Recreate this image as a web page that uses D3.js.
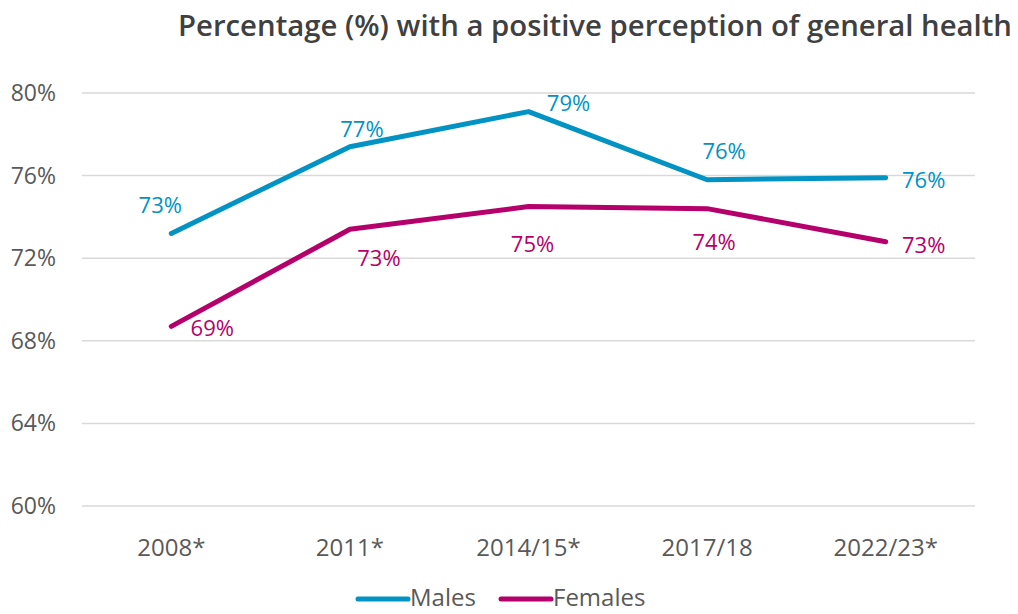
<!DOCTYPE html>
<html lang="en">
<head>
    <meta charset="UTF-8">
    <title>Positive perception of general health</title>
    <script src="https://d3js.org/d3.v7.min.js"></script>
    <style>
        body { margin: 0; background: #fff; }
        svg text { font-family: 'Open Sans', sans-serif; }
        .y-label { font-size: 23px; fill: #595959; }
        .x-label { font-size: 24px; fill: #595959; }
        .data-label { font-size: 22px; }
        .title { font-size: 28px; font-weight: 600; fill: #404040; }
        .legend-text { font-size: 24px; fill: #595959; }
    </style>
</head>
<body>
    <svg id="chart"></svg>
    <script>
        // data
        const years = ["2008*", "2011*", "2014/15*", "2017/18", "2022/23*"];
        const males = [73.2, 77.4, 79.1, 75.8, 75.9];
        const females = [68.7, 73.4, 74.5, 74.4, 72.8];
        const maleLabels = ["73%", "77%", "79%", "76%", "76%"];
        const femaleLabels = ["69%", "73%", "75%", "74%", "73%"];
        const yTicks = [60, 64, 68, 72, 76, 80];

        // label placement relative to each point
        const maleOffsets = [[-11, -20], [12, -10], [40, -1], [17, -21], [38, 10]];
        const femaleOffsets = [[41, 10], [29, 37], [4, 45], [7, 41], [38, 11]];

        const W = 1018, H = 614;
        const svg = d3.select("#chart").attr("width", W).attr("height", H);

        const x = d3.scalePoint().domain(years).range([82, 975]).padding(0.5);
        const y = d3.scaleLinear().domain([60, 80]).range([506, 93]);

        // title
        svg.append("text")
            .attr("class", "title")
            .attr("x", 178).attr("y", 36)
            .attr("textLength", 834)
            .attr("lengthAdjust", "spacingAndGlyphs")
            .text("Percentage (%) with a positive perception of general health");

        // gridlines
        svg.append("g")
            .selectAll("line")
            .data(yTicks)
            .enter().append("line")
            .attr("x1", 82).attr("x2", 975)
            .attr("y1", d => y(d)).attr("y2", d => y(d))
            .attr("stroke", "#d9d9d9")
            .attr("stroke-width", 1.5);

        // y axis labels
        svg.append("g")
            .selectAll("text")
            .data(yTicks)
            .enter().append("text")
            .attr("class", "y-label")
            .attr("x", 56)
            .attr("y", d => y(d) + 8)
            .attr("text-anchor", "end")
            .text(d => d + "%");

        // x axis labels
        svg.append("g")
            .selectAll("text")
            .data(years)
            .enter().append("text")
            .attr("class", "x-label")
            .attr("x", d => x(d))
            .attr("y", 556)
            .attr("text-anchor", "middle")
            .text(d => d);

        const series = [
            { name: "Males", values: males, labels: maleLabels, offsets: maleOffsets, color: "#0093c4" },
            { name: "Females", values: females, labels: femaleLabels, offsets: femaleOffsets, color: "#b5006b" }
        ];

        const line = d3.line()
            .x((d, i) => x(years[i]))
            .y(d => y(d));

        series.forEach(s => {
            svg.append("path")
                .datum(s.values)
                .attr("fill", "none")
                .attr("stroke", s.color)
                .attr("stroke-width", 5)
                .attr("stroke-linecap", "round")
                .attr("stroke-linejoin", "round")
                .attr("d", line);

            svg.append("g")
                .selectAll("text")
                .data(s.values)
                .enter().append("text")
                .attr("class", "data-label")
                .attr("x", (d, i) => x(years[i]) + s.offsets[i][0])
                .attr("y", (d, i) => y(d) + s.offsets[i][1])
                .attr("text-anchor", "middle")
                .style("fill", s.color)
                .text((d, i) => s.labels[i]);
        });

        // legend
        const legendX = [358, 501];
        const legend = svg.append("g");
        series.forEach((s, i) => {
            legend.append("line")
                .attr("x1", legendX[i]).attr("x2", legendX[i] + 50)
                .attr("y1", 599).attr("y2", 599)
                .attr("stroke", s.color)
                .attr("stroke-width", 5)
                .attr("stroke-linecap", "round");
            legend.append("text")
                .attr("class", "legend-text")
                .attr("x", legendX[i] + 52)
                .attr("y", 606)
                .text(s.name);
        });
    </script>
</body>
</html>
